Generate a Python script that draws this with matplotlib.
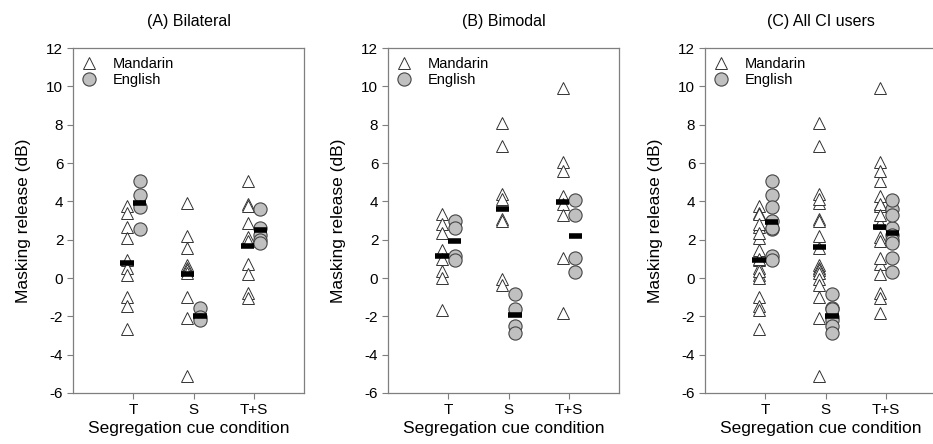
import numpy as np
import matplotlib
matplotlib.use("Agg")
import matplotlib.pyplot as plt

plt.rcParams['font.family'] = ['Liberation Sans', 'DejaVu Sans']
plt.rcParams['axes.unicode_minus'] = False

conditions = ["T", "S", "T+S"]

# Bilateral group (dB)
bil_mandarin = [
    [3.75, 3.37, 2.68, 2.07, 0.94, 0.50, 0.16, -0.97, -1.46, -2.68],
    [3.9, 2.19, 1.58, 0.68, 0.54, 0.42, 0.28, -0.97, -2.07, -5.11],
    [5.04, 3.88, 3.75, 2.85, 2.15, 1.95, 0.72, 0.2, -0.8, -1.02],
]
bil_english = [
    [5.06, 4.33, 3.69, 2.54],
    [-1.55, -2.05, -2.2],
    [3.6, 2.6, 2.25, 2.0, 1.85],
]
bil_mean_mandarin = [0.77, 0.21, 1.69]
bil_mean_english = [3.9, -1.98, 2.5]

# Bimodal group
bim_mandarin = [
    [3.34, 2.82, 2.33, 1.46, 0.97, 0.38, -0.02, -1.67],
    [8.1, 6.9, 4.4, 4.1, 3.1, 2.95, -0.05, -0.35],
    [9.9, 6.05, 5.6, 4.3, 3.85, 3.3, 1.05, -1.8],
]
bim_english = [
    [2.99, 2.6, 1.13, 0.96],
    [-0.81, -1.64, -2.5, -2.85],
    [4.08, 3.3, 1.05, 0.3],
]
bim_mean_mandarin = [1.15, 3.61, 3.99]
bim_mean_english = [1.93, -1.95, 2.17]

# All CI users = both groups together
all_mean_mandarin = [0.95, 1.62, 2.64]
all_mean_english = [2.91, -1.97, 2.35]

all_mandarin = [a + b for a, b in zip(bil_mandarin, bim_mandarin)]
all_english = [a + b for a, b in zip(bil_english, bim_english)]

panels = [
    ("(A) Bilateral", bil_mandarin, bil_english, bil_mean_mandarin, bil_mean_english),
    ("(B) Bimodal", bim_mandarin, bim_english, bim_mean_mandarin, bim_mean_english),
    ("(C) All CI users", all_mandarin, all_english, all_mean_mandarin, all_mean_english),
]

fig = plt.figure(figsize=(9.33, 4.44), dpi=100)
lefts = [73 / 933, 388 / 933, 705 / 933]
spine_col = "#7f7f7f"
off = 0.105
half = 0.11

for left, (title, mand, eng, m_mean, e_mean) in zip(lefts, panels):
    ax = fig.add_axes([left, 51 / 444, 231 / 933, 345 / 444])
    pos = np.arange(1, len(conditions) + 1)
    for i, p in enumerate(pos):
        ax.plot([p - off] * len(mand[i]), mand[i], linestyle='none', marker='^',
                markersize=9, markerfacecolor='white', markeredgecolor='#333333',
                markeredgewidth=0.7, label='Mandarin' if i == 0 else None, zorder=2)
    for i, p in enumerate(pos):
        ax.plot([p + off] * len(eng[i]), eng[i], linestyle='none', marker='o',
                markersize=9.5, markerfacecolor='#c0c0c0', markeredgecolor='#444444',
                markeredgewidth=0.8, label='English' if i == 0 else None, zorder=3)
    ax.hlines(m_mean, pos - off - half, pos - off + half, colors='black', linewidth=4, zorder=4)
    ax.hlines(e_mean, pos + off - half, pos + off + half, colors='black', linewidth=4, zorder=4)

    ax.set_xlim(0, 3.83)
    ax.set_ylim(-6, 12)
    ax.set_yticks(np.arange(-6, 13, 2))
    ax.set_xticks(pos)
    ax.set_xticklabels(conditions)
    ax.tick_params(direction='out', length=4, width=0.8, color=spine_col, labelsize=11, pad=3)
    for s in ax.spines.values():
        s.set_color(spine_col)
        s.set_linewidth(0.9)
    ax.set_title(title, fontsize=11.5, pad=16)
    ax.set_ylabel("Masking release (dB)", fontsize=12.5, labelpad=11)
    ax.set_xlabel("Segregation cue condition", fontsize=12.5, labelpad=3)
    ax.legend(loc='upper left', frameon=False, fontsize=10.5, handletextpad=1.1,
              borderaxespad=0.2, labelspacing=0.15, handlelength=1.0)

fig.savefig("out.png", dpi=100)
